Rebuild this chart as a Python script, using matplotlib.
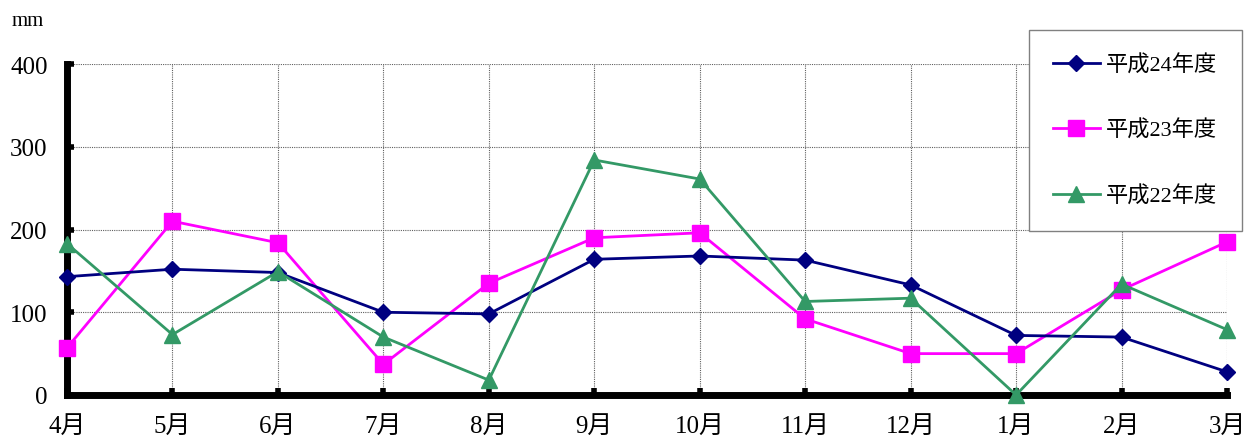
"""Monthly rainfall comparison, H22-H24"""
import matplotlib
matplotlib.use("Agg")
import matplotlib.pyplot as plt

plt.rcParams["font.family"] = ["Liberation Serif", "Noto Sans CJK JP", "DejaVu Sans"]

months = ["4月", "5月", "6月", "7月", "8月", "9月", "10月", "11月", "12月", "1月", "2月", "3月"]
h24 = [143, 152, 148, 100, 98, 164, 168, 163, 133, 72, 70, 28]
h23 = [57, 210, 184, 37, 135, 190, 196, 92, 50, 50, 127, 185]
h22 = [183, 73, 149, 70, 18, 284, 261, 113, 117, 0, 134, 79]
yticks = [0, 100, 200, 300, 400]

fig = plt.figure(figsize=(12.5, 4.39), dpi=100)
ax = fig.add_axes([67 / 1250, 1 - 396 / 439, (1227 - 67) / 1250, (396 - 65) / 439])

x = list(range(len(months)))
ax.plot(x, h24, color="#000080", lw=2, marker="D", ms=8, label="平成24年度", clip_on=False, zorder=4)
ax.plot(x, h23, color="#FF00FF", lw=2, marker="s", ms=11, label="平成23年度", clip_on=False, zorder=3)
ax.plot(x, h22, color="#339966", lw=2, marker="^", ms=11, label="平成22年度", clip_on=False, zorder=5)

ax.set_xlim(0, len(months) - 1)
ax.set_ylim(0, 400)
ax.set_xticks(x)
ax.set_xticklabels(months)
ax.set_yticks(yticks)
ax.grid(True, color="#606060", ls=(0, (1, 1)), lw=0.8)
for s in ("top", "right"):
    ax.spines[s].set_visible(False)
for s in ("left", "bottom"):
    ax.spines[s].set_linewidth(5)
    ax.spines[s].set_color("black")
ax.tick_params(direction="in", length=5, width=4, labelsize=18, color="black")
ax.tick_params(axis="x", pad=14)
ax.tick_params(axis="y", pad=14)

fig.text(12 / 1250, 1 - 22 / 439, "mm", fontsize=15, va="center")

leg = fig.legend(loc="upper right", bbox_to_anchor=(1242 / 1250, 1 - 31 / 439),
                 fontsize=16, frameon=True, fancybox=False, edgecolor="#808080",
                 framealpha=1, labelspacing=2.0, borderpad=1.1, borderaxespad=0,
                 handlelength=2.1, handletextpad=0.3)
leg.get_frame().set_linewidth(1)
leg.set_zorder(10)

fig.savefig("out.png", dpi=100)
